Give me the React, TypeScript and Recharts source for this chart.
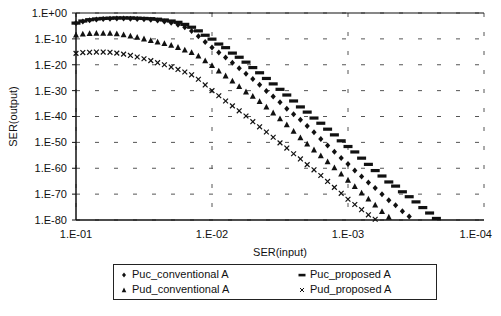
import React from "react";
import {
  ScatterChart,
  Scatter,
  XAxis,
  YAxis,
  CartesianGrid,
  ReferenceLine,
  Legend,
} from "recharts";

// SER(input) as a power of ten (1.E-01 ... 1.E-04)
const inputExp = [
  -1.0, -1.05, -1.1, -1.15, -1.2, -1.25, -1.3, -1.35, -1.4, -1.45,
  -1.5, -1.55, -1.6, -1.65, -1.7, -1.75, -1.8, -1.85, -1.9, -1.95,
  -2.0, -2.05, -2.1, -2.15, -2.2, -2.25, -2.3, -2.35, -2.4, -2.45,
  -2.5, -2.55, -2.6, -2.65, -2.7, -2.75, -2.8, -2.85, -2.9, -2.95,
  -3.0, -3.05, -3.1, -3.15, -3.2, -3.25, -3.3, -3.35, -3.4, -3.45,
  -3.5, -3.55, -3.6, -3.65,
];

// SER(output) as a power of ten, one value per input point
const pucConventional = [
  -3.9, -3.3, -2.8, -2.5, -2.3, -2.2, -2.1, -2.1, -2.2, -2.3,
  -2.4, -2.6, -2.9, -3.3, -3.8, -4.5, -5.5, -7.0, -9.0, -11.2,
  -13.3, -15.3, -17.2, -19.2, -21.4, -23.5, -25.5, -27.7, -30.1, -32.3,
  -34.5, -37.0, -39.1, -41.3, -43.7, -46.1, -48.7, -51.2, -53.6, -56.0,
  -58.4, -60.9, -63.2, -65.5, -67.6, -70.0, -72.4, -74.3, -76.6, -78.6,
];
const pucProposed = [
  -3.9, -3.1, -2.6, -2.3, -2.1, -2.0, -1.9, -1.9, -1.9, -2.0,
  -2.1, -2.2, -2.4, -2.7, -3.1, -3.6, -4.4, -5.5, -6.9, -8.6,
  -10.1, -12.0, -13.4, -15.5, -17.1, -19.0, -21.1, -23.1, -25.3, -27.4,
  -29.5, -31.7, -34.0, -36.3, -38.3, -40.6, -42.6, -44.9, -47.1, -49.4,
  -51.6, -53.7, -56.1, -58.5, -60.9, -63.0, -65.3, -66.9, -69.1, -71.0,
  -73.0, -75.2, -77.3, -79.4,
];
const pudConventional = [
  -8.5, -8.1, -7.9, -7.8, -7.8, -7.8, -8.0, -8.4, -8.9, -9.4,
  -10.0, -10.6, -11.2, -11.8, -12.5, -13.3, -14.3, -15.3, -16.6, -18.5,
  -20.3, -22.4, -24.3, -26.3, -28.4, -30.5, -32.2, -34.2, -36.3, -38.6,
  -40.9, -43.2, -45.7, -48.2, -50.6, -52.9, -55.2, -57.5, -59.8, -62.2,
  -64.6, -67.1, -69.6, -71.9, -74.2, -76.7, -78.9,
];
const pudProposed = [
  -15.6, -15.3, -15.2, -15.1, -15.1, -15.2, -15.5, -15.9, -16.4, -17.0,
  -17.7, -18.4, -19.2, -20.0, -20.9, -21.8, -22.8, -23.9, -25.6, -27.8,
  -30.0, -32.0, -34.0, -35.9, -37.8, -39.8, -42.0, -44.0, -46.0, -48.0,
  -50.2, -52.2, -54.4, -56.4, -58.6, -60.6, -62.8, -65.1, -67.4, -69.7,
  -72.0, -74.0, -76.0, -78.0, -79.7,
];

const xTicks = [-1, -2, -3, -4];
const yTicks = [0, -10, -20, -30, -40, -50, -60, -70, -80];

const seriesNames = [
  "Puc_conventional A",
  "Puc_proposed A",
  "Pud_conventional A",
  "Pud_proposed A",
];

const INK = "#111";
const FONT = "'Liberation Sans', Arial, sans-serif";

const toPoints = (vals: number[]) =>
  vals.map((v, i) => ({ x: inputExp[i], y: v }));

const fmtX = (v: number) => "1.E-0" + Math.abs(v);
const fmtY = (v: number) =>
  v === 0 ? "1.E+00" : "1.E-" + String(Math.abs(v)).padStart(2, "0");

// x tick label; the last one is right-aligned so it stays on the page
const XTick = ({ x, y, payload }: any) => {
  const last = payload.value === -4;
  return (
    <text
      x={last ? x + 8 : x}
      y={y}
      dy="0.75em"
      textAnchor={last ? "end" : "middle"}
      fill={INK}
      fontSize={11}
    >
      {fmtX(payload.value)}
    </text>
  );
};

// marker shapes
const Diamond = ({ cx, cy }: any) => (
  <polygon
    points={`${cx},${cy - 3} ${cx + 2.6},${cy} ${cx},${cy + 3} ${cx - 2.6},${cy}`}
    fill={INK}
  />
);
const Dash = ({ cx, cy }: any) => (
  <rect x={cx - 4.5} y={cy - 1.6} width={9} height={3.2} fill={INK} />
);
const Triangle = ({ cx, cy }: any) => (
  <polygon
    points={`${cx},${cy - 3.3} ${cx + 3},${cy + 2.5} ${cx - 3},${cy + 2.5}`}
    fill={INK}
  />
);
const Cross = ({ cx, cy }: any) => (
  <g stroke={INK} strokeWidth={1.2}>
    <line x1={cx - 2.4} y1={cy - 2.4} x2={cx + 2.4} y2={cy + 2.4} />
    <line x1={cx - 2.4} y1={cy + 2.4} x2={cx + 2.4} y2={cy - 2.4} />
  </g>
);

// smaller versions for the legend
const legendIcons = [
  <polygon key="d" points="4,1.5 6,4 4,6.5 2,4" fill={INK} />,
  <rect key="r" x={0.5} y={2.8} width={7} height={2.6} fill={INK} />,
  <polygon key="t" points="4,1.5 6.3,6.3 1.7,6.3" fill={INK} />,
  <g key="c" stroke={INK} strokeWidth={1}>
    <line x1={2} y1={2} x2={6} y2={6} />
    <line x1={2} y1={6} x2={6} y2={2} />
  </g>,
];

const LegendBox = () => (
  <div
    style={{
      border: "1px solid #222",
      fontFamily: FONT,
      fontSize: 11,
      color: INK,
      display: "grid",
      gridTemplateColumns: "178px 140px",
      padding: "2px 0 2px 0",
      lineHeight: "15px",
    }}
  >
    {[0, 1, 2, 3].map((i) => (
      <div key={i} style={{ paddingLeft: 6 }}>
        <svg width={8} height={8} style={{ verticalAlign: "middle" }}>
          {legendIcons[i]}
        </svg>
        <span style={{ marginLeft: 4 }}>{seriesNames[i]}</span>
      </div>
    ))}
  </div>
);

export default function App() {
  return (
    <div style={{ width: 493, height: 300 }}>
      <style>{"html,body{overflow:hidden}"}</style>
      <ScatterChart
        width={493}
        height={300}
        margin={{ top: 5, right: 17, bottom: 48, left: 0 }}
        style={{ fontFamily: FONT }}
      >
        <CartesianGrid
          stroke="#555"
          strokeDasharray="4 15"
          horizontalValues={yTicks}
          verticalValues={xTicks}
        />
        <XAxis
          type="number"
          dataKey="x"
          domain={[-4, -1]}
          reversed
          ticks={xTicks}
          interval={0}
          height={40}
          tickLine={false}
          tickSize={4}
          tickMargin={6}
          axisLine={{ stroke: INK, strokeWidth: 1.5 }}
          tick={<XTick />}
          label={{
            value: "SER(input)",
            position: "insideBottom",
            offset: 4,
            fill: INK,
            fontSize: 11,
          }}
        />
        <YAxis
          type="number"
          dataKey="y"
          domain={[-80, 0]}
          ticks={yTicks}
          interval={0}
          tickFormatter={fmtY}
          width={68}
          tickSize={4}
          tickMargin={5}
          axisLine={{ stroke: INK, strokeWidth: 1.5 }}
          tickLine={{ stroke: INK }}
          tick={{ fill: INK, fontSize: 11 }}
          label={{
            value: "SER(output)",
            angle: -90,
            position: "insideLeft",
            offset: 5,
            fill: INK,
            fontSize: 11,
            style: { textAnchor: "middle" },
          }}
        />
        <ReferenceLine y={0} stroke={INK} strokeWidth={1.2} />
        <Scatter
          name={seriesNames[0]}
          data={toPoints(pucConventional)}
          shape={Diamond}
          isAnimationActive={false}
        />
        <Scatter
          name={seriesNames[1]}
          data={toPoints(pucProposed)}
          shape={Dash}
          isAnimationActive={false}
        />
        <Scatter
          name={seriesNames[2]}
          data={toPoints(pudConventional)}
          shape={Triangle}
          isAnimationActive={false}
        />
        <Scatter
          name={seriesNames[3]}
          data={toPoints(pudProposed)}
          shape={Cross}
          isAnimationActive={false}
        />
        <Legend
          layout="vertical"
          align="center"
          verticalAlign="middle"
          wrapperStyle={{ top: 256, left: 105, width: 324 }}
          content={() => <LegendBox />}
        />
      </ScatterChart>
    </div>
  );
}
